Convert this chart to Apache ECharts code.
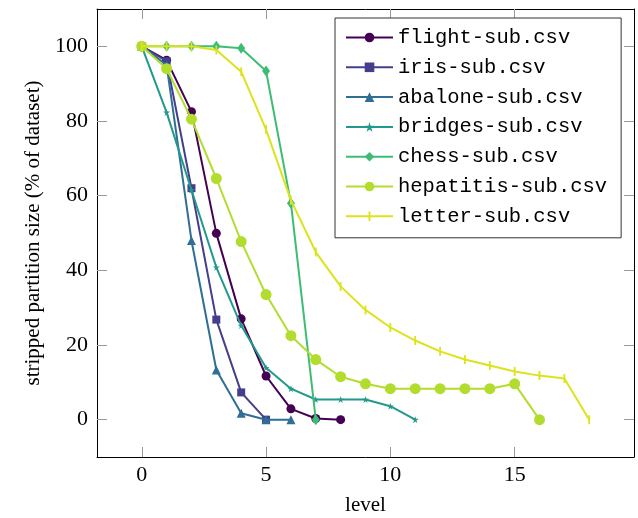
<!DOCTYPE html>
<html>
<head>
<meta charset="utf-8">
<script src="https://cdn.jsdelivr.net/npm/echarts@6/dist/echarts.min.js"></script>
<style>html,body{margin:0;padding:0;background:#fff;}#c{width:638px;height:518px;}</style>
</head>
<body>
<div id="c"></div>
<script>
const seriesNames = ['flight-sub.csv','iris-sub.csv','abalone-sub.csv','bridges-sub.csv','chess-sub.csv','hepatitis-sub.csv','letter-sub.csv'];
const flight    = [100, 96.3, 82.5, 49.9, 27, 11.7, 2.9, 0.3, 0];
const iris      = [100, 96, 62, 26.8, 7.3, 0];
const abalone   = [100, 95, 48, 13.3, 1.7, 0, 0];
const bridges   = [100, 82.3, 61.5, 40.8, 25.2, 13.9, 8.3, 5.4, 5.4, 5.4, 3.6, 0];
const chess     = [100, 100, 100, 100, 99.5, 93.4, 58, 0];
const hepatitis = [100, 94, 80.5, 64.6, 47.7, 33.5, 22.5, 16.1, 11.5, 9.6, 8.3, 8.3, 8.3, 8.3, 8.3, 9.6, 0];
const letter    = [100, 100, 100, 99, 93.2, 77.7, 58.8, 44.9, 35.7, 29.4, 24.7, 21.2, 18.3, 16.1, 14.5, 12.9, 11.8, 11, 0];
const xTicks = [0, 5, 10, 15];
const yTicks = [0, 20, 40, 60, 80, 100];

const allValues = [flight, iris, abalone, bridges, chess, hepatitis, letter];
const colors = ['#440154', '#453e8c', '#2f6e95', '#22998c', '#3dbd73', '#b3dd2e', '#dde31b'];
const starPath = 'path://M50,0 L61,35 L98,35 L68,57 L79,92 L50,70 L21,92 L32,57 L2,35 L39,35 Z';
const barPath = 'path://M0,5 L0.01,5 L0.01,5.01 Z M4,0 L6,0 L6,10 L4,10 Z M9.99,5 L10,5 L10,5.01 Z';
const symbols = ['circle', 'rect', 'triangle', starPath, 'diamond', 'circle', barPath];
const symbolSizes = [9, 8, 9, 7, [8, 11], 11, 9];

const chart = echarts.init(document.getElementById('c'), null, {renderer: 'canvas'});
const serif = 'Liberation Serif';
const tickStyle = {show: true, inside: true, length: 10, lineStyle: {color: '#999', width: 1}};

function xAx(pos, showLabel) {
  return {
    type: 'value', position: pos, min: -1.8, max: 19.8,
    name: showLabel ? 'level' : '', nameLocation: 'middle', nameGap: 38,
    nameTextStyle: {fontFamily: serif, fontSize: 21, color: '#000'},
    axisLine: {show: true, onZero: false, lineStyle: {color: '#000', width: 1}},
    axisTick: Object.assign({customValues: xTicks}, tickStyle),
    axisLabel: {show: showLabel, customValues: xTicks, fontFamily: serif, fontSize: 22, color: '#000', margin: 7},
    splitLine: {show: false}
  };
}
function yAx(pos, showLabel) {
  return {
    type: 'value', position: pos, min: -10, max: 110,
    name: showLabel ? 'stripped partition size (% of dataset)' : '', nameLocation: 'middle', nameGap: 49,
    nameTextStyle: {fontFamily: serif, fontSize: 21, color: '#000'},
    axisLine: {show: true, onZero: false, lineStyle: {color: '#000', width: 1}},
    axisTick: Object.assign({customValues: yTicks}, tickStyle),
    axisLabel: {show: showLabel, customValues: yTicks, fontFamily: serif, fontSize: 22, color: '#000', margin: 9},
    splitLine: {show: false}
  };
}

const series = seriesNames.map((name, i) => ({
  name: name,
  type: 'line',
  xAxisIndex: 0, yAxisIndex: 0,
  data: allValues[i].map((v, k) => [k, v]),
  symbol: symbols[i],
  symbolSize: symbolSizes[i],
  showSymbol: true,
  color: colors[i],
  lineStyle: {width: 2, color: colors[i]},
  itemStyle: {color: colors[i], borderWidth: 0},
  animation: false,
  z: 2 + i
}));

chart.setOption({
  animation: false,
  backgroundColor: '#fff',
  grid: {left: 97, right: 4, top: 9, bottom: 61, containLabel: false, outerBoundsMode: 'none'},
  xAxis: [xAx('bottom', true), xAx('top', false)],
  yAxis: [yAx('left', true), yAx('right', false)],
  legend: {
    orient: 'vertical', left: 335, top: 18,
    backgroundColor: '#fff', borderColor: '#333', borderWidth: 1,
    padding: [9, 14, 11, 10],
    itemWidth: 47, itemHeight: 12, itemGap: 8.8,
    textStyle: {fontFamily: 'Liberation Mono', fontSize: 20.5, color: '#000', lineHeight: 20},
    data: seriesNames
  },
  series: series
});
</script>
</body>
</html>
